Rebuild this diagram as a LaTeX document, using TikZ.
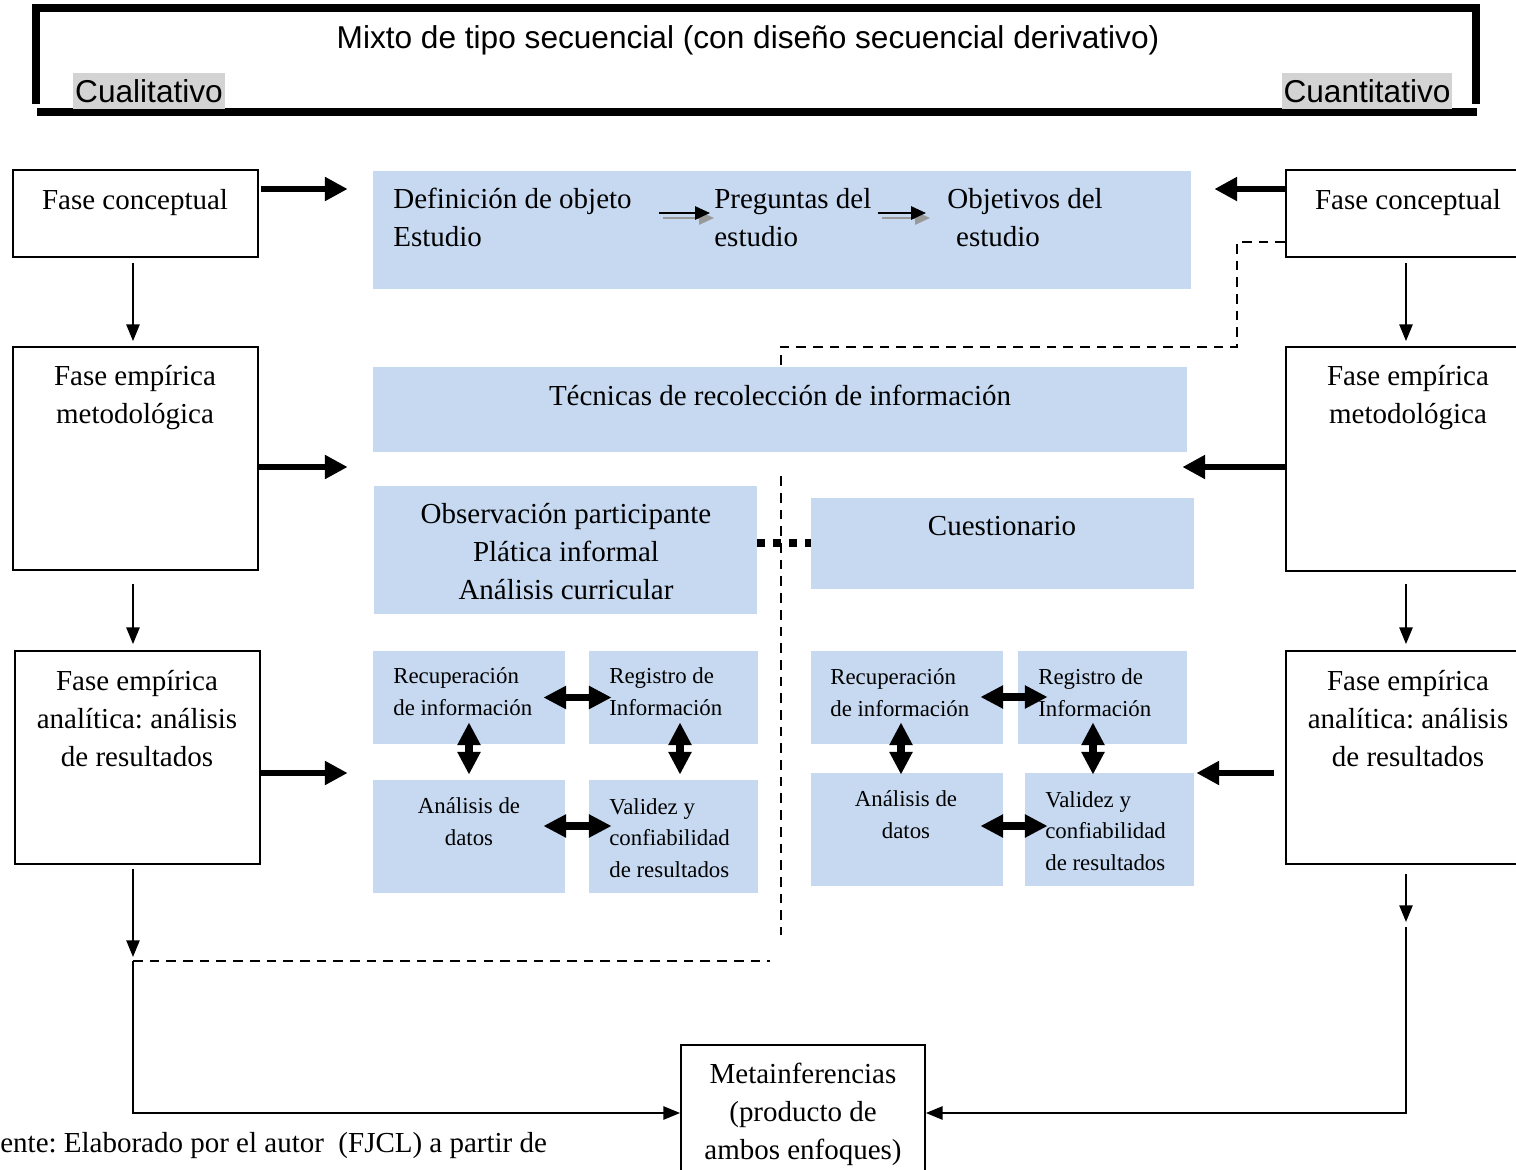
\documentclass[tikz,border=0pt]{standalone}
\usepackage{fontspec}
\setmainfont{Liberation Serif}
\setsansfont{Liberation Sans}
\usetikzlibrary{arrows.meta,fit}
\definecolor{cajaazul}{RGB}{198,217,241}
\definecolor{resalte}{RGB}{211,211,211}
\newcommand\fasefont{\fontsize{16.5}{21.6}\selectfont\frenchspacing}
\newcommand\cajafont{\fontsize{13}{17.8}\selectfont}
\newcommand\titfont{\sffamily\fontsize{18}{21.6}\selectfont}

\begin{document}
\begin{tikzpicture}[x=0.02cm,y=-0.02cm,
	fase/.style={draw,line width=1pt,inner sep=0pt},
	azul/.style={fill=cajaazul,inner sep=0pt},
	txt/.style={inner sep=0pt,font=\fasefont,align=center,anchor=base},
	txtizq/.style={inner sep=0pt,font=\fasefont,align=left,anchor=base west},
	chico/.style={inner sep=0pt,font=\cajafont,align=left,anchor=base west},
	resaltado/.style={fill=resalte,font=\titfont,inner xsep=1pt,inner ysep=0pt,text height=16.3pt,text depth=3.8pt,anchor=base},
	flecha/.style={line width=1.1pt,-{Triangle[length=9.5pt,width=7.5pt]}},
	flechita/.style={line width=1.2pt,-{Triangle[length=8.5pt,width=7.5pt]}},
	gruesa/.style={line width=3.4pt,-{Triangle[length=13pt,width=13pt]}},
	doble/.style={line width=4pt,{Triangle[length=13pt,width=12.5pt]}-{Triangle[length=13pt,width=12.5pt]}},
	guion/.style={line width=1.1pt,dash pattern=on 5.5pt off 4pt}]
	\useasboundingbox (0,0) rectangle (1516,1170);
	\clip (0,0) rectangle (1516,1170);

	\draw[line width=4pt] (36,104) |- (1476,8) -- (1476,104);
	\draw[line width=4pt] (37,112) -- (1477,112);
	\node[font=\titfont,inner sep=0pt,anchor=base] (titulo) at (748,48) {Mixto de tipo secuencial (con diseño secuencial derivativo)};
	\node[resaltado] (cuali) at (149,102) {Cualitativo};
	\node[resaltado] (cuanti) at (1367,102) {Cuantitativo};

	\foreach \n/\xa/\ya/\xb/\yb in {objeto/373/171/1191/289, tecnicas/373/367/1187/452, obs/374/486/757/614, cuest/811/498/1194/589,
		lrec/373/651/565/744, lreg/589/651/758/744, lana/373/780/565/893, lval/589/780/758/893,
		rrec/811/651/1003/744, rreg/1018/651/1187/744, rana/811/773/1003/886, rval/1025/773/1194/886}
		\node[azul,fit={(\xa,\ya) (\xb,\yb)}] (\n) {};
	\foreach \n/\xa/\ya/\xb/\yb in {fcl/13/170/258/257, feml/13/347/258/570, feal/15/651/260/864,
		fcr/1286/170/1530/257, femr/1286/347/1530/571, fear/1286/651/1530/864, meta/681/1045/925/1190}
		\node[fase,fit={(\xa,\ya) (\xb,\yb)}] (\n) {};

	\node[txt] (fcl-t) at (135,209) {Fase conceptual};
	\node[txt] (feml-t) at (135,423) {Fase empírica\\metodológica};
	\node[txt] (feal-t) at (137,766) {Fase empírica\\analítica: análisis\\de resultados};
	\node[txt] (fcr-t) at (1408,209) {Fase conceptual};
	\node[txt] (femr-t) at (1408,423) {Fase empírica\\metodológica};
	\node[txt] (fear-t) at (1408,766) {Fase empírica\\analítica: análisis\\de resultados};
	\node[txt] (meta-t) at (803,1159) {Metainferencias\\(producto de\\ambos enfoques)};

	\node[txtizq] (def) at (393,246) {Definición de objeto\\Estudio};
	\node[txtizq] (preg) at (714,246) {Preguntas del\\estudio};
	\node[txtizq] (obj) at (947,246) {Objetivos del\\\hspace*{5pt}estudio};
	\node[txt] (tec-t) at (780,405) {Técnicas de recolección de información};
	\node[txt] (obs-t) at (566,599) {Observación participante\\Plática informal\\Análisis curricular};
	\node[txt] (cuest-t) at (1002,535) {Cuestionario};

	\node[chico] (lrec-t) at (393,715) {Recuperación\\de información};
	\node[chico] (lreg-t) at (609,715) {Registro de\\Información};
	\node[chico,align=center,anchor=base] (lana-t) at (469,845) {Análisis de\\datos};
	\node[chico] (lval-t) at (609,877) {Validez y\\confiabilidad\\de resultados};
	\node[chico] (rrec-t) at (830,716) {Recuperación\\de información};
	\node[chico] (rreg-t) at (1038,716) {Registro de\\Información};
	\node[chico,align=center,anchor=base] (rana-t) at (906,838) {Análisis de\\datos};
	\node[chico] (rval-t) at (1045,870) {Validez y\\confiabilidad\\de resultados};

	\node[inner sep=0pt,font=\fasefont,anchor=base west] (fuente) at (0,1152) {ente: Elaborado por el autor\ \ (FJCL) a partir de};

	\draw[flechita,gray!80,transform canvas={xshift=0.08cm,yshift=-0.1cm},shorten <=0.54cm,shorten >=0.08cm] (def.east |- 0,213) -- (preg.west |- 0,213);
	\draw[flechita,shorten <=0.54cm,shorten >=0.08cm] (def.east |- 0,213) -- (preg.west |- 0,213);
	\draw[flechita,gray!80,transform canvas={xshift=0.08cm,yshift=-0.1cm},shorten <=0.12cm,shorten >=0.42cm] (preg.east |- 0,213) -- (obj.west |- 0,213);
	\draw[flechita,shorten <=0.12cm,shorten >=0.42cm] (preg.east |- 0,213) -- (obj.west |- 0,213);

	\draw[doble,shorten <=-0.44cm,shorten >=-0.46cm] (lrec.east) -- (lreg.west);
	\draw[doble,shorten <=-0.44cm,shorten >=-0.46cm] (lana.east |- 0,826) -- (lval.west |- 0,826);
	\draw[doble,shorten <=-0.44cm,shorten >=0.1cm] (lrec.south) -- (lana.north);
	\draw[doble,shorten <=-0.44cm,shorten >=0.1cm] (lreg.south -| 680,0) -- (lval.north -| 680,0);
	\draw[doble,shorten <=-0.46cm,shorten >=-0.6cm] (rrec.east |- 0,697) -- (rreg.west |- 0,697);
	\draw[doble,shorten <=-0.46cm,shorten >=-0.46cm] (rana.east |- 0,826) -- (rval.west |- 0,826);
	\draw[doble,shorten <=-0.44cm,shorten >=-0.04cm] (rrec.south -| 901,0) -- (rana.north -| 901,0);
	\draw[doble,shorten <=-0.44cm,shorten >=-0.04cm] (rreg.south -| 1093,0) -- (rval.north -| 1093,0);

	\draw[gruesa,shorten <=0.04cm,shorten >=0.5cm] (fcl.east |- 0,189) -- (objeto.west |- 0,189);
	\draw[gruesa,shorten >=0.52cm] (feml.east |- 0,467) -- (obs.west |- 0,467);
	\draw[gruesa,shorten >=0.5cm] (feal.east |- 0,773) -- (lana.west |- 0,773);
	\draw[gruesa,shorten >=0.46cm] (fcr.west |- 0,189) -- (objeto.east |- 0,189);
	\draw[gruesa,shorten >=-0.1cm] (femr.west |- 0,467) -- (tecnicas.east |- 0,467);
	\draw[gruesa,shorten <=0.22cm,shorten >=0.04cm] (fear.west |- 0,773) -- (rval.east |- 0,773);

	\coordinate (vfin) at (781,935);
	\coordinate (hfin) at (770,961);
	\coordinate (lesq) at (133,961);
	\coordinate (lbase) at (133,1113);
	\coordinate (resq) at (1406,922);
	\coordinate (rbase) at (1406,1113);

	\draw[flecha,shorten <=0.1cm,shorten >=0.1cm] (fcl.south -| 133,0) -- (feml.north -| 133,0);
	\draw[flecha,shorten <=0.26cm,shorten >=0.12cm] (feml.south -| 133,0) -- (feal.north -| 133,0);
	\draw[flecha,shorten <=0.08cm,shorten >=0.08cm] (feal.south -| lesq) -- (lesq);
	\draw[flecha] (lesq) -- (lbase) -- (meta.west |- lbase);
	\draw[flecha,shorten <=0.1cm,shorten >=0.1cm] (fcr.south -| 1406,0) -- (femr.north -| 1406,0);
	\draw[flecha,shorten <=0.24cm,shorten >=0.12cm] (femr.south -| 1406,0) -- (fear.north -| 1406,0);
	\draw[flecha,shorten <=0.18cm] (fear.south -| resq) -- (resq);
	\draw[flecha,shorten <=0.1cm] (resq) -- (rbase) -- (meta.east |- rbase);

	\draw[guion] (fcr.west |- 0,242) -| (1237,347) -| (tecnicas.north -| 781,0);
	\draw[guion,shorten <=0.48cm] (tecnicas.south -| vfin) -- (vfin);
	\draw[guion] (lesq) -- (hfin);
	\draw[line width=4pt,dash pattern=on 4.5pt off 4.5pt] (obs.east |- 0,543) -- (cuest.west |- 0,543);
\end{tikzpicture}
\end{document}
